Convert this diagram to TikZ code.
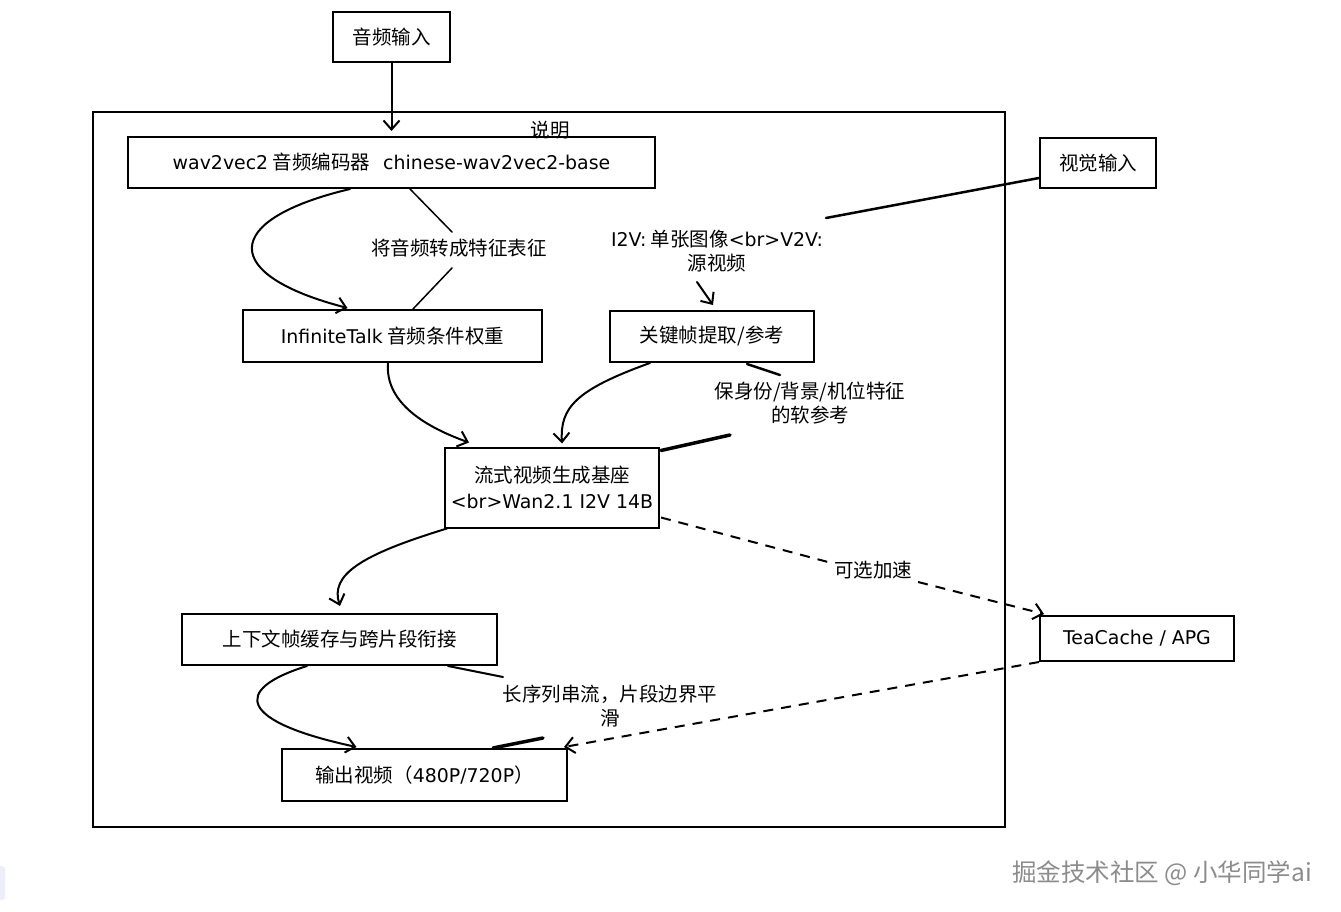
\documentclass[tikz,border=0pt]{standalone}
\usepackage{fontspec}
\setmainfont{Noto Sans CJK SC}
\newfontfamily\lat[Scale=0.97]{DejaVu Sans}
\usetikzlibrary{arrows.meta,calc}
\begin{document}
\begin{tikzpicture}[x=1pt,y=-1pt,
  box/.style={draw=black,line width=2pt,inner sep=0pt,font=\fontsize{19.5}{23}\selectfont},
  lbl/.style={inner sep=2pt,align=center,font=\fontsize{19.5}{24}\selectfont},
  conn/.style={line width=2pt,line cap=round},
  arr/.style={conn,-{Straight Barb[length=9pt,width=16pt,line width=2pt]}},
  dashconn/.style={line width=2pt,dash pattern=on 10pt off 8pt},
  thickconn/.style={line width=3.5pt,line cap=round},
]
\useasboundingbox (0,0) rectangle (1341,912);
\fill[white] (0,0) rectangle (1341,912);
% faint mark bottom left
\fill[rounded corners=3pt, fill={rgb,255:red,238;green,238;blue,250}] (-6,866) rectangle (5,900);

% container
\node[draw=black,line width=1.8pt,minimum width=912pt,minimum height=715pt,inner sep=0pt] (frame) at (549,469.5) {};
\node[lbl] (title) at (550,130) {说明};

% nodes
\node[box,minimum width=117pt,minimum height=50pt] (audio) at (391.5,37) {音频输入};
\node[box,minimum width=527pt,minimum height=51pt] (w2v) at (391.5,162.5) {{\lat wav2vec2} 音频编码器 ~ {\lat chinese-wav2vec2-base}};
\node[box,minimum width=116pt,minimum height=50pt] (visual) at (1098,163) {视觉输入};
\node[box,minimum width=299pt,minimum height=52pt] (it) at (392.5,336) {{\lat InfiniteTalk} 音频条件权重};
\node[box,minimum width=204pt,minimum height=51pt] (kf) at (712,336.5) {关键帧提取/参考};
\node[box,minimum width=214pt,minimum height=80pt,align=center,font=\fontsize{19.5}{26}\selectfont] (gen) at (552,487.5) {流式视频生成基座\\{\lat <br>Wan2.1 I2V 14B}};
\node[box,minimum width=315pt,minimum height=51pt] (ctx) at (339.5,639.5) {上下文帧缓存与跨片段衔接};
\node[box,minimum width=194pt,minimum height=45pt] (tea) at (1137,638.5) {\lat TeaCache / APG};
\node[box,minimum width=285pt,minimum height=52pt] (out) at (424.5,775) {输出视频（{\lat 480P/720P}）};

% labels
\node[lbl] (l1) at (459,248) {将音频转成特征表征};
\node[lbl] (l2) at (717,251) {{\lat I2V:} 单张图像{\lat <br>V2V:}\\源视频};
\node[lbl] (l3) at (810,403) {保身份/背景/机位特征\\的软参考};
\node[lbl] (l4) at (873,570) {可选加速};
\node[lbl] (l5) at (610,706) {长序列串流，片段边界平\\滑};

% audio -> w2v
\draw[arr,shorten >=5pt] (audio.south) -- (audio.south |- w2v.north);

% w2v -> it (curve + label lines)
\draw[arr] ($(w2v.south)+(-41.5,0)$) .. controls (220,220) and (220,275) .. ($(it.north)+(-45,-1)$);
\draw[conn,line width=1.5pt] ($(w2v.south)+(18.5,0)$) -- (452,232);
\draw[conn,line width=1.5pt] (452,268) -- ($(it.north)+(20.5,0)$);

% visual -> kf
\draw[conn,line width=2.5pt] ($(visual.west)+(0,15)$) -- (826,218);
\draw[arr] (697,282) -- ($(kf.north)+(1,-5)$);

% kf -> gen
\draw[arr] ($(kf.south)+(-62,0)$) .. controls (575,390) and (560,408) .. ($(gen.north)+(10,-3)$);
\draw[conn,line width=2.5pt] ($(kf.south)+(35,1)$) -- (780,375);
\draw[thickconn] (730,435) -- ($(gen.north east)+(1,4)$);

% it -> gen
\draw[arr] ($(it.south)+(-4.5,0)$) .. controls (385,400) and (420,425) .. ($(gen.north west)+(25,-4)$);

% gen -> ctx
\draw[arr] ($(gen.south west)+(3,0)$) .. controls (360,555) and (330,575) .. ($(ctx.north)+(0.5,-7)$);

% ctx -> out
\draw[arr] ($(ctx.south)+(-32.5,0)$) .. controls (230,690) and (240,722) .. ($(out.north)+(-68,-1)$);
\draw[conn] ($(ctx.south east)+(-50,0)$) -- (503,677);
\draw[thickconn] ($(out.north)+(68.5,0)$) -- (543,738);

% gen -> tea (dashed)
\draw[dashconn] ($(gen.east)+(1,30)$) -- (828,562);
\draw[dashconn,-{Straight Barb[length=9pt,width=16pt,line width=2pt]}] (918,582) -- ($(tea.north west)+(5,-1)$);

% tea -> out (dashed)
\draw[dashconn,-{Straight Barb[length=9pt,width=16pt,line width=2pt]}] (tea.south west) -- ($(out.north east)+(-4,-1)$);

% watermark
\node[font=\fontsize{24.5}{25}\selectfont,text={rgb,255:red,140;green,140;blue,140}] (wm) at (1162,873) {掘金技术社区 @ 小华同学ai};
\end{tikzpicture}
\end{document}
